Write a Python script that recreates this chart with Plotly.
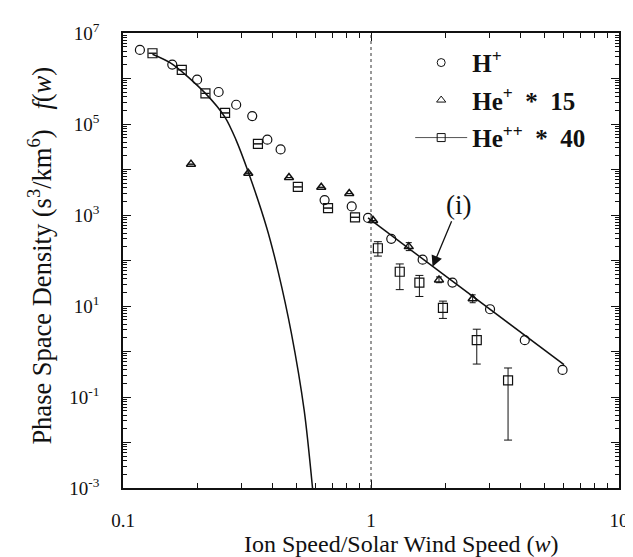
import plotly.graph_objects as go

# ---- data ----
h_w = [0.117, 0.158, 0.199, 0.243, 0.286, 0.332, 0.382, 0.432, 0.650, 0.836, 0.973,
       1.207, 1.615, 2.13, 3.02, 4.17, 5.92]
h_f = [4.25e6, 2.02e6, 9.4e5, 5.05e5, 2.65e5, 1.49e5, 4.53e4, 2.76e4, 2.13e3, 1.54e3, 861,
       300, 104, 32.8, 8.49, 1.77, 0.394]

hep_w = [0.188, 0.320, 0.467, 0.630, 0.817, 1.02, 1.42, 1.88, 2.57]
hep_f = [1.31e4, 8.28e3, 6.67e3, 4.06e3, 2.97e3, 754, 202, 37.5, 14.4]
hep_up = [0, 0, 0, 0, 0, 0, 45, 6, 3.2]
hep_dn = [0, 0, 0, 0, 0, 0, 37, 5, 2.6]

hepp_w = [0.1315, 0.1726, 0.215, 0.258, 0.350, 0.507, 0.671, 0.862,
          1.066, 1.306, 1.567, 1.95, 2.67, 3.57]
hepp_f = [3.59e6, 1.55e6, 4.71e5, 1.75e5, 3.66e4, 4.14e3, 1.42e3, 891,
          186, 56.6, 32.8, 9.06, 1.77, 0.232]
hepp_hi = [3.59e6, 1.55e6, 4.71e5, 1.75e5, 3.66e4, 4.14e3, 1.42e3, 891,
           259, 84, 47, 12.8, 3.09, 0.434]
hepp_lo = [3.59e6, 1.55e6, 4.71e5, 1.75e5, 3.66e4, 4.14e3, 1.42e3, 891,
           125, 22.9, 16.2, 5.33, 0.53, 0.0113]

maxw_w = [0.1315, 0.158, 0.215, 0.258, 0.285, 0.320, 0.380, 0.423, 0.477, 0.538, 0.581]
maxw_f = [3.41e6, 2.08e6, 4.71e5, 1.4e5, 4.6e4, 8.8e3, 520, 55, 2.6, 0.05, 1.0e-3]

pl_w = [0.973, 6.0]
pl_f = [861, 0.513]

x_ticks = [0.1, 1, 10]
x_ticktext = ["0.1", "1", "10"]
y_exps = list(range(-3, 8))
y_ticktext = [("10<sup>%d</sup>" % e) if e % 2 == 1 else "" for e in y_exps]

SERIF = "Liberation Serif"
BLACK = "#111"

fig = go.Figure()

fig.add_trace(go.Scatter(x=maxw_w, y=maxw_f, mode="lines",
                         line=dict(color=BLACK, width=1.5, shape="spline", smoothing=0.8),
                         showlegend=False, hoverinfo="skip"))
fig.add_trace(go.Scatter(x=pl_w, y=pl_f, mode="lines", line=dict(color=BLACK, width=1.5),
                         showlegend=False, hoverinfo="skip"))

fig.add_trace(go.Scatter(x=h_w, y=h_f, mode="markers",
                         marker=dict(symbol="circle-open", size=9, color=BLACK, line=dict(width=1.2)),
                         showlegend=False))
fig.add_trace(go.Scatter(x=hep_w, y=hep_f, mode="markers",
                         marker=dict(symbol="triangle-up-open", size=8, color=BLACK, line=dict(width=1.5)),
                         error_y=dict(type="data", array=hep_up, arrayminus=hep_dn, color=BLACK,
                                      thickness=1, width=3),
                         showlegend=False))
err_up = [h - f for h, f in zip(hepp_hi, hepp_f)]
err_dn = [f - l for f, l in zip(hepp_f, hepp_lo)]
fig.add_trace(go.Scatter(x=hepp_w, y=hepp_f, mode="markers",
                         marker=dict(symbol="square-open", size=9, color=BLACK, line=dict(width=1.2)),
                         error_y=dict(type="data", array=err_up, arrayminus=err_dn, color=BLACK,
                                      thickness=1, width=4),
                         showlegend=False))

# legend entries
fig.add_trace(go.Scatter(x=[None], y=[None], mode="markers", name="H<sup>+</sup>", legendgroup="a",
                         marker=dict(symbol="circle-open", size=8, color=BLACK)))
fig.add_trace(go.Scatter(x=[None], y=[None], mode="markers", name="He<sup>+</sup>  *  15", legendgroup="b",
                         marker=dict(symbol="triangle-up-open", size=8, color=BLACK)))
fig.add_trace(go.Scatter(x=[None], y=[None], mode="lines+markers", name="He<sup>++</sup>  *  40", legendgroup="c",
                         line=dict(color="#555", width=1),
                         marker=dict(symbol="square-open", size=8, color=BLACK)))

fig.add_vline(x=1, line=dict(color="#333", width=1, dash="dot"))

minor_x = [k * 10 ** e for e in (-1, 0) for k in range(2, 10)]
minor_y = [k * 10.0 ** e for e in range(-3, 7) for k in range(2, 10)]

axis_common = dict(showline=True, linecolor=BLACK, linewidth=1.5, mirror="ticks",
                   ticks="inside", ticklen=8, tickwidth=1, tickcolor=BLACK,
                   showgrid=False, zeroline=False,
                   tickfont=dict(family=SERIF, size=19, color=BLACK))

fig.update_xaxes(type="log", range=[-1, 1], tickmode="array", tickvals=x_ticks, ticktext=x_ticktext,
                 minor=dict(tickmode="array", tickvals=minor_x, ticks="inside", ticklen=5,
                            tickcolor=BLACK, showgrid=False),
                 ticklabelstandoff=14, **axis_common)
fig.update_yaxes(type="log", range=[-3, 7], tickmode="array", tickvals=[10.0 ** e for e in y_exps],
                 ticktext=y_ticktext,
                 minor=dict(tickmode="array", tickvals=minor_y, ticks="inside", ticklen=4,
                            tickcolor=BLACK, showgrid=False),
                 ticklabelstandoff=18, **axis_common)

fig.add_annotation(text="Ion Speed/Solar Wind Speed (<i>w</i>)", xref="paper", yref="paper",
                   x=0.561, y=-0.124, showarrow=False, xanchor="center", yanchor="middle",
                   font=dict(family=SERIF, size=24, color=BLACK))
fig.add_annotation(text="Phase Space Density (s<sup>3</sup>/km<sup>6</sup>)   <i>f</i>(<i>w</i>)",
                   xref="paper", yref="paper", x=-0.168, y=0.51, textangle=-90, showarrow=False,
                   xanchor="center", yanchor="middle", font=dict(family=SERIF, size=26.5, color=BLACK))
fig.add_annotation(text="(i)", x=0.248, y=1.86, xref="x", yref="y", showarrow=True,
                   ax=26, ay=-62, arrowhead=2, arrowsize=1.7, arrowwidth=1.3, arrowcolor=BLACK,
                   font=dict(family=SERIF, size=27, color=BLACK))

fig.update_layout(
    width=633, height=557,
    margin=dict(l=115, r=12, t=15, b=77),
    paper_bgcolor="white", plot_bgcolor="white",
    legend=dict(x=0.579, y=0.985, xanchor="left", yanchor="top", bgcolor="rgba(0,0,0,0)",
                font=dict(family=SERIF, size=25, color=BLACK, weight="bold"),
                tracegroupgap=2, itemwidth=52),
)

fig.write_html("out.html")
